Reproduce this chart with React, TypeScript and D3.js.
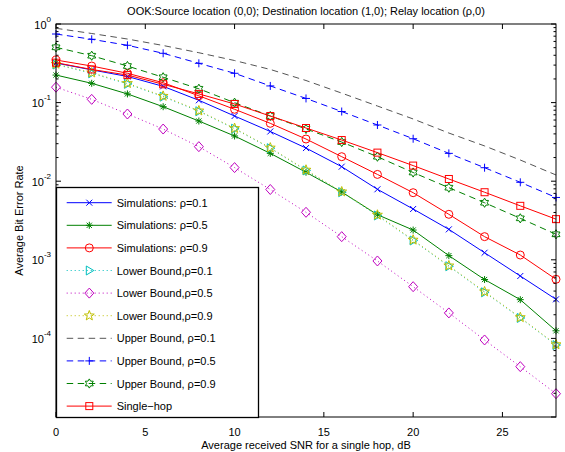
import React from 'react';
import * as d3 from 'd3';

const snr = [0, 2, 4, 6, 8, 10, 12, 14, 16, 18, 20, 22, 24, 26, 28];
const simRho01 = [0.319, 0.261, 0.215, 0.161, 0.107, 0.0675, 0.0429, 0.0264, 0.0153, 0.00789, 0.00443, 0.00244, 0.00123, 0.000622, 0.000314];
const simRho05 = [0.224, 0.176, 0.129, 0.0887, 0.0583, 0.0376, 0.0226, 0.013, 0.00729, 0.00375, 0.00239, 0.00113, 0.000561, 0.000311, 0.000125];
const simRho09 = [0.348, 0.292, 0.236, 0.179, 0.122, 0.0822, 0.0545, 0.0344, 0.0205, 0.0122, 0.00714, 0.00379, 0.00197, 0.00115, 0.000565];
const lbRho01 = [0.305, 0.236, 0.173, 0.119, 0.0776, 0.0465, 0.0263, 0.0137, 0.00725, 0.00366, 0.00176, 0.000828, 0.000386, 0.000182, 0.0000822];
const lbRho05 = [0.157, 0.11, 0.0716, 0.0461, 0.0275, 0.0149, 0.00784, 0.00402, 0.00197, 0.000966, 0.000455, 0.000211, 0.0000955, 0.0000437, 0.0000198];
const lbRho09 = [0.31, 0.24, 0.176, 0.121, 0.0788, 0.0471, 0.0266, 0.0139, 0.00735, 0.00372, 0.00179, 0.000841, 0.000393, 0.000185, 0.0000836];
const ubRho01 = [0.882, 0.757, 0.644, 0.533, 0.431, 0.343, 0.264, 0.191, 0.132, 0.0905, 0.0619, 0.041, 0.0281, 0.0186, 0.012];
const ubRho05 = [0.746, 0.639, 0.536, 0.424, 0.316, 0.236, 0.163, 0.113, 0.077, 0.0519, 0.0347, 0.0226, 0.01485, 0.00968, 0.00621];
const ubRho09 = [0.505, 0.395, 0.292, 0.21, 0.15, 0.0997, 0.0675, 0.0462, 0.0315, 0.0205, 0.0129, 0.00827, 0.00532, 0.00337, 0.00211];
const singleHop = [0.322, 0.264, 0.224, 0.171, 0.129, 0.096, 0.0675, 0.0475, 0.0334, 0.0231, 0.0158, 0.01067, 0.00724, 0.00486, 0.00329];

const seriesLabels = [
  'Simulations: \u03c1=0.1',
  'Simulations: \u03c1=0.5',
  'Simulations: \u03c1=0.9',
  'Lower Bound,\u03c1=0.1',
  'Lower Bound,\u03c1=0.5',
  'Lower Bound,\u03c1=0.9',
  'Upper Bound, \u03c1=0.1',
  'Upper Bound, \u03c1=0.5',
  'Upper Bound, \u03c1=0.9',
  'Single\u2212hop',
];
const xTicks = [0, 5, 10, 15, 20, 25];
const yDecades = [-5, -4, -3, -2, -1, 0];
const yLabelDecades = [-4, -3, -2, -1, 0];
const titleText = 'OOK:Source location (0,0); Destination location (1,0); Relay location (\u03c1,0)';
const xLabelText = 'Average received SNR for a single hop, dB';
const yLabelText = 'Average Bit Error Rate';

const W = 565;
const H = 452;
const M = { left: 56, right: 556, top: 24, bottom: 417 };
const FONT = '"Liberation Sans", Arial, Helvetica, sans-serif';

type Style = { values: number[]; color: string; dash: string | null; marker: string | null };

const styles: Style[] = [
  { values: simRho01, color: '#0000ff', dash: null, marker: 'x' },
  { values: simRho05, color: '#008000', dash: null, marker: '*' },
  { values: simRho09, color: '#ff0000', dash: null, marker: 'o' },
  { values: lbRho01, color: '#00bfbf', dash: '1,3', marker: '>' },
  { values: lbRho05, color: '#bf00bf', dash: '1,3', marker: 'd' },
  { values: lbRho09, color: '#bfbf00', dash: '1,3', marker: 'p' },
  { values: ubRho01, color: '#555555', dash: '6.5,4.5', marker: null },
  { values: ubRho05, color: '#0000ff', dash: '6.5,4.5', marker: '+' },
  { values: ubRho09, color: '#008000', dash: '6.5,4.5', marker: 'h' },
  { values: singleHop, color: '#ff0000', dash: null, marker: 's' },
];

function starPath(cx: number, cy: number, n: number, R: number, r: number) {
  const pts: string[] = [];
  for (let k = 0; k < 2 * n; k++) {
    const a = -Math.PI / 2 + (k * Math.PI) / n;
    const rad = k % 2 === 0 ? R : r;
    pts.push(`${(cx + rad * Math.cos(a)).toFixed(2)},${(cy + rad * Math.sin(a)).toFixed(2)}`);
  }
  return 'M' + pts.join('L') + 'Z';
}

function Marker({ type, cx, cy, color }: { type: string; cx: number; cy: number; color: string }) {
  const common = { stroke: color, strokeWidth: 1, fill: 'none' };
  switch (type) {
    case 'x':
      return <path {...common} d={`M${cx - 3},${cy - 3}L${cx + 3},${cy + 3}M${cx - 3},${cy + 3}L${cx + 3},${cy - 3}`} />;
    case '*':
      return (
        <path
          {...common}
          d={`M${cx - 3.5},${cy}L${cx + 3.5},${cy}M${cx},${cy - 3.5}L${cx},${cy + 3.5}M${cx - 2.6},${cy - 2.6}L${cx + 2.6},${cy + 2.6}M${cx - 2.6},${cy + 2.6}L${cx + 2.6},${cy - 2.6}`}
        />
      );
    case 'o':
      return <circle {...common} cx={cx} cy={cy} r={4} />;
    case 's':
      return <rect {...common} x={cx - 3.5} y={cy - 3.5} width={7} height={7} />;
    case '+':
      return <path {...common} d={`M${cx - 4},${cy}L${cx + 4},${cy}M${cx},${cy - 4}L${cx},${cy + 4}`} />;
    case '>':
      return <path {...common} d={`M${cx + 4.5},${cy}L${cx - 3},${cy - 4.5}L${cx - 3},${cy + 4.5}Z`} />;
    case 'd':
      return <path {...common} d={`M${cx},${cy - 5}L${cx + 4.5},${cy}L${cx},${cy + 5}L${cx - 4.5},${cy}Z`} />;
    case 'p':
      return <path {...common} d={starPath(cx, cy, 5, 5.2, 2.2)} />;
    case 'h':
      return <path {...common} d={starPath(cx, cy, 6, 4.6, 2.7)} />;
    default:
      return null;
  }
}

export default function App() {
  const x = d3.scaleLinear().domain([0, 28]).range([M.left, M.right]);
  const y = d3.scaleLog().domain([1e-5, 1]).range([M.bottom, M.top]);
  const line = d3
    .line<number>()
    .x((_, i) => x(snr[i]))
    .y((d) => y(d));

  const minorTicks: number[] = [];
  for (let e = -5; e < 0; e++) {
    for (let m = 2; m <= 9; m++) minorTicks.push(m * Math.pow(10, e));
  }

  const legX = 56.5;
  const legY = 187.5;
  const legW = 202;
  const legH = 230;
  const itemY0 = 202.7;
  const itemStep = 22.6;

  return (
    <svg
      width={W}
      height={H}
      style={{ position: 'absolute', left: 0, top: 0, background: '#fff' }}
      fontFamily={FONT}
    >
      <rect x={0} y={0} width={W} height={H} fill="#fff" />
      {/* title */}
      <text x={(M.left + M.right) / 2} y={15} fontSize={11} textAnchor="middle" fill="#000">
        {titleText}
      </text>

      {/* ticks */}
      <g stroke="#000" strokeWidth={1}>
        {xTicks.map((t) => (
          <g key={'xt' + t}>
            <line x1={x(t)} x2={x(t)} y1={M.bottom} y2={M.bottom - 5} />
            <line x1={x(t)} x2={x(t)} y1={M.top} y2={M.top + 5} />
          </g>
        ))}
        {yDecades.map((e) => (
          <g key={'yt' + e}>
            <line x1={M.left} x2={M.left + 5} y1={y(Math.pow(10, e))} y2={y(Math.pow(10, e))} />
            <line x1={M.right} x2={M.right - 5} y1={y(Math.pow(10, e))} y2={y(Math.pow(10, e))} />
          </g>
        ))}
        {minorTicks.map((v, i) => (
          <g key={'ym' + i}>
            <line x1={M.left} x2={M.left + 2.5} y1={y(v)} y2={y(v)} />
            <line x1={M.right} x2={M.right - 2.5} y1={y(v)} y2={y(v)} />
          </g>
        ))}
      </g>

      {/* x tick labels */}
      {xTicks.map((t) => (
        <text key={'xl' + t} x={x(t)} y={436} fontSize={11} textAnchor="middle" fill="#000">
          {t}
        </text>
      ))}
      {/* y tick labels */}
      {yLabelDecades.map((e) => (
        <text key={'yl' + e} x={51} y={y(Math.pow(10, e)) + 4.5} fontSize={11} textAnchor="end" fill="#000">
          <tspan>10</tspan>
          <tspan dy={-7} fontSize={8}>
            {e === 0 ? '0' : '-' + Math.abs(e)}
          </tspan>
        </text>
      ))}

      {/* axis labels */}
      <text x={(M.left + M.right) / 2} y={449} fontSize={11} textAnchor="middle" fill="#000">
        {xLabelText}
      </text>
      <text
        transform={`translate(23,${(M.top + M.bottom) / 2}) rotate(-90)`}
        fontSize={11}
        textAnchor="middle"
        fill="#000"
      >
        {yLabelText}
      </text>

      {/* series */}
      {styles.map((s, si) => (
        <g key={'s' + si}>
          <path
            d={line(s.values) || ''}
            fill="none"
            stroke={s.color}
            strokeWidth={1}
            strokeDasharray={s.dash || undefined}
          />
          {s.marker &&
            s.values.map((v, i) => (
              <Marker key={i} type={s.marker as string} cx={x(snr[i])} cy={y(v)} color={s.color} />
            ))}
        </g>
      ))}

      {/* frame */}
      <rect
        x={M.left}
        y={M.top}
        width={M.right - M.left}
        height={M.bottom - M.top}
        fill="none"
        stroke="#000"
        strokeWidth={1}
      />

      {/* legend */}
      <rect x={legX} y={legY} width={legW} height={legH} fill="#fff" stroke="#000" strokeWidth={1.3} />
      {styles.map((s, i) => {
        const yy = itemY0 + i * itemStep;
        return (
          <g key={'lg' + i}>
            <line
              x1={66.7}
              x2={111.7}
              y1={yy}
              y2={yy}
              stroke={s.color}
              strokeWidth={1}
              strokeDasharray={s.dash || undefined}
            />
            {s.marker && <Marker type={s.marker} cx={89.3} cy={yy} color={s.color} />}
            <text x={116.7} y={yy + 4} fontSize={11} fill="#000">
              {seriesLabels[i]}
            </text>
          </g>
        );
      })}
    </svg>
  );
}
